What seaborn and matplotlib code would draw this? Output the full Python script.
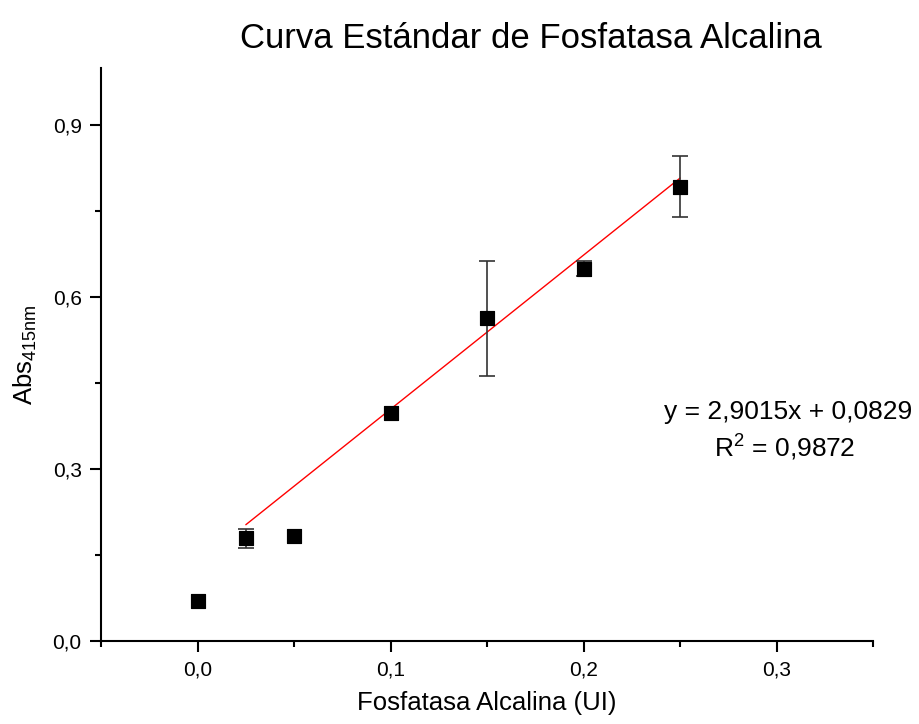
import pandas as pd
import seaborn as sns
import matplotlib.pyplot as plt
from matplotlib.ticker import MultipleLocator, FuncFormatter

# data
conc = [0.0, 0.025, 0.05, 0.1, 0.15, 0.2, 0.25]
absorb = [0.070, 0.179, 0.184, 0.398, 0.563, 0.650, 0.793]
err = [0.0, 0.016, 0.0, 0.0, 0.100, 0.013, 0.053]

fit_x = [0.025, 0.25]
fit_y = [0.203, 0.808]

df = pd.DataFrame({'conc': conc, 'abs': absorb, 'err': err})
fit = pd.DataFrame({'x': fit_x, 'y': fit_y})

sns.set_style('ticks')
plt.rcParams['font.family'] = ['Liberation Sans', 'DejaVu Sans']
plt.rcParams['text.color'] = 'black'
plt.rcParams['axes.labelcolor'] = 'black'
plt.rcParams['xtick.color'] = 'black'
plt.rcParams['ytick.color'] = 'black'

fig = plt.figure(figsize=(9.19, 7.24), dpi=100)
ax = fig.add_axes([0.110, 0.1146, 0.840, 0.7914])

sns.lineplot(x='x', y='y', data=fit, color='red', linewidth=1, ax=ax)
ebar = df[df['err'] > 0]
ax.errorbar(ebar['conc'], ebar['abs'], yerr=ebar['err'], fmt='none',
            ecolor='#333333', elinewidth=1.2, capsize=6, capthick=1.2)
sns.scatterplot(x='conc', y='abs', data=df, marker='s', s=110, color='black',
                edgecolor='black', ax=ax, zorder=5)

ax.set_xlim(-0.05, 0.35)
ax.set_ylim(0, 1.0)
ax.xaxis.set_major_locator(MultipleLocator(0.1))
ax.xaxis.set_minor_locator(MultipleLocator(0.05))
ax.yaxis.set_major_locator(MultipleLocator(0.3))
ax.yaxis.set_minor_locator(MultipleLocator(0.15))
comma = FuncFormatter(lambda v, p: f'{v:.1f}'.replace('.', ','))
ax.xaxis.set_major_formatter(comma)
ax.yaxis.set_major_formatter(comma)
ax.tick_params(which='major', direction='out', length=8, width=1.5, labelsize=15,
               color='black', labelcolor='black', pad=6)
ax.tick_params(which='minor', direction='out', length=4.5, width=1.5, color='black')
for s in ['left', 'bottom']:
    ax.spines[s].set_linewidth(1.5)
    ax.spines[s].set_color('black')
sns.despine(ax=ax)

ax.set_xlabel('Fosfatasa Alcalina (UI)', fontsize=18.5, labelpad=8)
ax.set_ylabel(r'Abs$_{\mathregular{415nm}}$', fontsize=18.5, labelpad=10)
fig.text(0.578, 0.9475, 'Curva Estándar de Fosfatasa Alcalina', fontsize=25,
         ha='center', va='center')

ax.text(0.89, 0.400, 'y = 2,9015x + 0,0829', transform=ax.transAxes,
        fontsize=19, ha='center', va='center')
ax.text(0.885, 0.340, r'R$^{\mathregular{2}}$ = 0,9872', transform=ax.transAxes,
        fontsize=19, ha='center', va='center')

plt.savefig('out.png', dpi=100)
